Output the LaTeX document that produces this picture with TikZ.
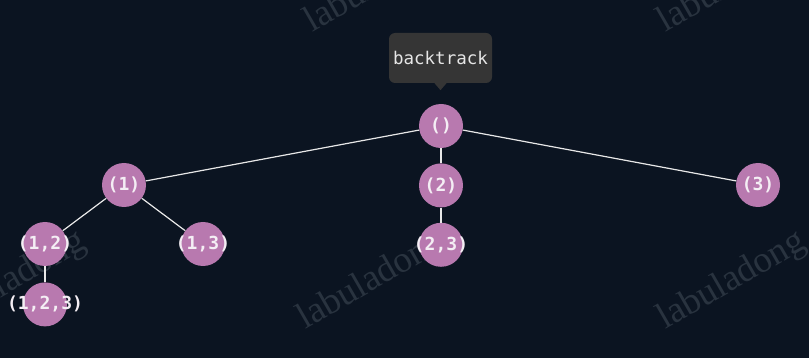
\documentclass[tikz,border=0pt]{standalone}
\usepackage{fontspec}
\setmonofont{DejaVu Sans Mono}
\newfontfamily\markfont{Liberation Serif}
\usepackage{tikz}
\usetikzlibrary{positioning}
\definecolor{BgNavy}{HTML}{0B1421}
\definecolor{NodePink}{HTML}{B879AF}
\definecolor{NodeText}{HTML}{F4EEF4}
\definecolor{TipGray}{HTML}{353535}
\definecolor{TipText}{HTML}{E6E6E6}
\definecolor{MarkGray}{HTML}{29333F}
\definecolor{EdgeWhite}{HTML}{E8E8E8}
\tikzset{
  % Tree node: fixed circle, text sits in a label so it may run over the rim
  TN/.style={circle,fill=NodePink,minimum size=44pt,inner sep=0pt,
             label={[TX]center:#1}},
  TX/.style={text=NodeText,inner sep=0pt,
             font=\ttfamily\bfseries\fontsize{18}{18}\selectfont},
  % Edge
  ed/.style={draw=EdgeWhite,line width=1.2pt},
  % Tooltip box
  tipbox/.style={fill=TipGray,rounded corners=6pt,
                 minimum width=103pt,minimum height=50pt,
                 text=TipText,font=\ttfamily\fontsize{17.5}{17.5}\selectfont},
  % Watermark text
  wm/.style={text=MarkGray,anchor=base west,rotate=30,inner sep=0pt,
             font=\markfont\fontsize{37}{37}\selectfont}
}
\begin{document}
\begin{tikzpicture}[x=1pt,y=-1pt]
  \useasboundingbox (0,0) rectangle (809,358);
  \fill[BgNavy] (0,0) rectangle (809,358);

  % watermarks
  \foreach \wx/\wy [count=\i] in {-55/330,305/330,665/330,312/33,665/33}
    \node[wm] (mark\i) at (\wx,\wy) {labuladong};

  % tree
  \node[TN={()}]                       (r)   at (441,126) {};
  \node[TN={(1)}]                      (a)   at (124,185) {};
  \node[TN={(2)},below=15pt of r]      (b)   {};
  \node[TN={(3)}]                      (c)   at (758,185) {};
  \node[TN={(1,2)}]                    (ab)  at (45,244) {};
  \node[TN={(1,3)}]                    (ac)  at (203,244) {};
  \node[TN={(2,3)},below=15pt of b]    (bc)  {};
  \node[TN={(1,2,3)},below=16pt of ab] (abc) {};

  \draw[ed] (r)--(a);
  \draw[ed] (r)--(b);
  \draw[ed] (r)--(c);
  \draw[ed] (a)--(ab);
  \draw[ed] (a)--(ac);
  \draw[ed] (b)--(bc);
  \draw[ed] (ab)--(abc);

  % tooltip over the root
  \node[tipbox] (tt) at (440.5,58) {backtrack};
  \fill[TipGray] ([xshift=-6pt]tt.south) -- ([xshift=6pt]tt.south)
                 -- ([yshift=-7pt]tt.south) -- cycle;
\end{tikzpicture}
\end{document}
